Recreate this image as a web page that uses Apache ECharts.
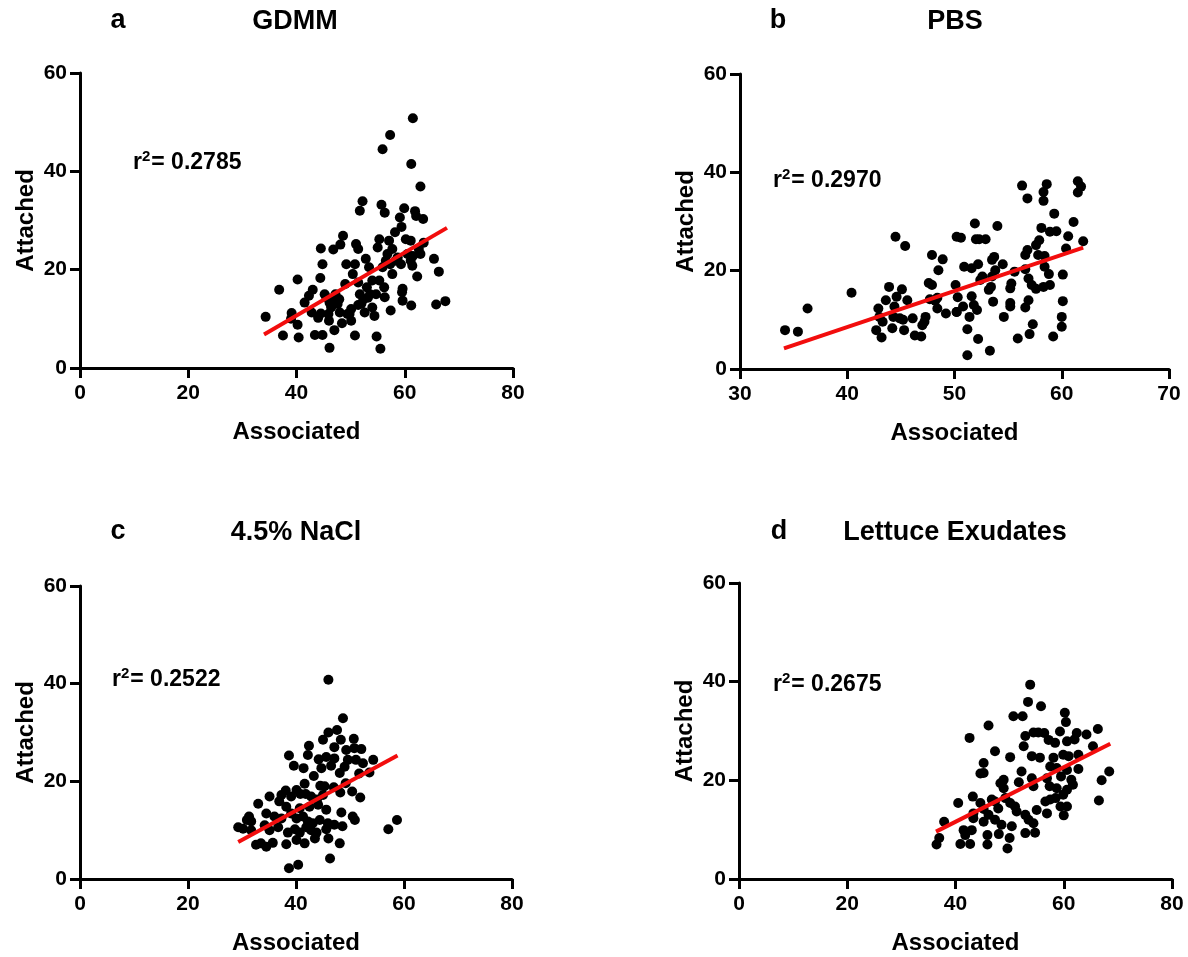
<!DOCTYPE html>
<html>
<head>
<meta charset="utf-8">
<script src="https://cdn.jsdelivr.net/npm/echarts@6/dist/echarts.min.js"></script>
<style>
html,body{margin:0;padding:0;background:#fff;}
#chart{width:1188px;height:957px;}
</style>
</head>
<body>
<div id="chart"></div>
<script>
// ---------- DATA ----------
const panelLetters = ['a', 'b', 'c', 'd'];
const panelTitles = ['GDMM', 'PBS', '4.5% NaCl', 'Lettuce Exudates'];
const r2Values = ['0.2785', '0.2970', '0.2522', '0.2675'];
const xAxisName = 'Associated';
const yAxisName = 'Attached';
const xRanges = [[0, 80, 20], [30, 70, 10], [0, 80, 20], [0, 80, 20]];
const yRange = [0, 60, 20];

const gdmmPoints = [
  [34.3,10.4],[36.8,15.9],[37.5,6.6],[39.1,11.2],[39.0,10.0],[40.2,18.0],[40.2,8.8],[40.4,6.2],
  [41.5,13.3],[42.3,14.7],[43.0,15.9],[42.8,11.3],[43.4,6.7],[44.5,24.3],[44.8,21.1],[44.4,18.3],
  [44.8,6.7],[45.2,15.0],[45.5,14.4],[44.5,11.1],[44.0,10.2],[46.0,9.6],[46.1,4.1],[46.8,24.1],
  [47.0,7.7],[47.2,15.0],[47.9,14.0],[47.6,13.0],[48.1,25.1],[48.6,26.9],[48.4,9.1],[49.0,17.1],
  [49.2,21.1],[49.8,11.0],[50.1,12.0],[50.4,19.1],[50.8,21.1],[50.8,6.6],[51.0,25.2],[51.4,24.2],
  [51.7,32.0],[52.2,33.9],[51.4,17.4],[51.7,15.0],[52.0,13.1],[52.4,14.0],[52.8,22.2],[53.0,16.4],
  [52.6,11.3],[53.4,20.5],[53.6,15.0],[54.0,17.8],[54.4,10.6],[54.7,15.0],[54.8,6.4],[55.0,24.5],
  [55.5,3.9],[55.7,33.2],[55.9,44.5],[55.3,26.2],[56.2,16.4],[56.3,31.6],[56.3,14.4],[56.8,23.2],
  [57.1,25.9],[57.3,47.4],[57.4,11.7],[57.3,21.1],[57.7,19.1],[58.2,27.6],[58.7,22.5],[59.1,30.6],
  [59.3,21.1],[59.4,28.7],[59.6,16.1],[59.6,13.7],[59.9,32.5],[60.2,26.2],[60.5,23.2],[61.1,25.9],
  [61.2,41.5],[61.2,12.7],[61.4,20.8],[61.5,50.8],[61.5,22.8],[61.9,31.9],[62.1,30.9],[62.3,18.6],
  [62.6,24.2],[62.9,36.9],[63.4,30.3],[63.5,25.5],[65.4,22.2],[65.8,12.9],[66.3,19.6],[67.5,13.6],
  [55.3,17.8],[55.9,20.5],[56.5,21.8],[53.2,14.3],[54.0,12.3],[51.4,12.8],[48.0,11.3],[46.1,13.3],
  [46.4,12.3],[47.0,13.7],[45.9,11.0],[50.1,9.6],[49.4,11.0],[57.7,24.2],[58.3,21.8],[62.9,23.2],
  [61.1,21.8],[59.5,15.4]
];
const pbsPoints = [
  [34.2,7.9],[35.4,7.6],[36.3,12.3],[40.4,15.5],[44.5,26.9],[45.4,25.0],[42.7,7.9],[43.2,6.4],
  [42.9,12.3],[43.0,10.6],[43.3,9.6],[43.6,14.0],[43.9,16.7],[44.4,12.7],[44.6,14.7],[44.3,10.6],
  [44.2,8.3],[45.1,16.2],[44.9,10.3],[45.2,10.0],[45.3,7.9],[45.6,14.0],[46.1,10.3],[46.3,6.8],
  [46.9,6.6],[47.0,8.9],[47.2,9.6],[47.3,10.6],[47.6,17.5],[47.9,17.1],[47.9,23.2],[48.5,20.1],
  [48.9,22.3],[47.7,14.2],[48.2,13.9],[48.4,14.5],[48.4,12.3],[49.2,11.3],[50.2,26.9],[50.2,11.6],
  [56.3,37.3],[56.8,34.7],[58.6,37.6],[58.3,36.0],[58.3,34.2],[61.5,38.2],[61.8,37.1],[61.5,35.9],
  [62.0,26.0],[59.3,31.6],[61.1,29.9],[60.6,27.0],[60.4,24.5],[60.1,19.2],[60.1,13.8],[60.0,10.6],
  [60.0,8.6],[59.2,6.6],[59.5,28.0],[58.9,27.9],[58.1,28.7],[57.9,26.2],[57.6,25.2],[56.8,24.2],
  [56.6,23.2],[57.8,23.2],[58.4,23.0],[58.4,20.8],[58.8,19.3],[58.9,17.1],[58.3,16.7],[57.6,16.3],
  [57.2,17.1],[56.9,18.4],[56.6,20.3],[55.6,19.8],[55.3,17.4],[55.2,16.4],[55.2,13.4],[55.2,12.7],
  [56.9,14.0],[56.6,12.5],[57.3,9.1],[57.0,7.1],[55.9,6.2],[54.6,10.6],[53.6,13.7],[53.2,16.1],
  [53.4,16.7],[53.5,18.8],[53.8,20.1],[53.5,22.2],[53.7,22.8],[54.5,21.3],[54.0,29.1],[52.9,26.4],
  [52.3,26.4],[52.0,26.4],[51.9,29.6],[50.6,26.7],[52.2,21.3],[51.6,20.5],[50.9,20.8],[52.6,18.8],
  [52.4,18.1],[50.1,17.1],[50.3,14.6],[51.6,14.8],[51.8,13.0],[52.1,12.0],[50.8,12.7],[50.2,11.6],
  [51.4,10.6],[51.2,8.1],[52.2,6.1],[53.3,3.7],[51.2,2.8]
];
const naclPoints = [
  [46.0,40.8],[48.7,32.9],[47.6,30.5],[46.0,30.0],[45.0,28.5],[48.3,28.5],[50.7,28.7],[42.4,27.3],
  [47.1,27.0],[49.3,26.4],[50.8,26.8],[52.1,26.6],[38.7,25.3],[42.2,25.4],[44.2,24.5],[45.6,25.0],
  [47.1,24.7],[49.6,24.4],[51.1,24.4],[52.4,23.7],[54.3,24.4],[39.6,23.2],[41.4,22.7],[44.7,22.7],
  [46.5,23.2],[49.0,23.0],[48.1,21.7],[51.7,21.6],[53.6,21.8],[43.3,21.1],[41.6,19.5],[44.5,19.1],
  [45.3,19.0],[47.0,18.8],[48.2,17.7],[49.2,19.6],[50.4,17.9],[51.9,16.7],[35.1,16.9],[38.1,18.1],
  [39.1,16.9],[40.1,18.2],[40.8,17.4],[41.8,17.4],[42.8,16.9],[43.9,16.3],[45.0,17.2],[37.3,17.2],
  [36.9,15.9],[33.0,15.4],[38.2,14.8],[40.7,14.5],[42.5,14.8],[44.1,15.2],[45.6,14.2],[48.4,13.6],
  [50.5,12.8],[50.9,12.1],[34.5,13.4],[36.0,12.8],[31.3,12.8],[30.9,12.1],[31.7,11.8],[37.3,12.4],
  [39.1,13.4],[40.1,12.4],[41.3,12.8],[42.2,11.8],[43.1,11.4],[44.4,12.1],[45.9,11.4],[47.1,11.1],
  [48.6,10.8],[29.3,10.6],[30.2,10.3],[31.7,10.0],[34.2,11.0],[35.1,10.0],[36.7,10.6],[38.5,9.5],
  [39.8,10.2],[40.7,9.5],[41.9,10.6],[42.8,10.0],[43.8,9.5],[45.6,10.2],[32.6,7.0],[33.5,7.3],
  [34.5,6.6],[35.7,7.4],[38.2,7.1],[40.1,8.0],[41.6,7.3],[43.5,8.3],[46.0,8.3],[48.1,7.3],
  [46.3,4.2],[38.7,2.2],[40.4,2.9],[57.1,10.2],[58.7,12.1]
];
const lettucePoints = [
  [53.8,39.4],[53.4,35.9],[55.8,35.0],[50.7,33.0],[52.4,33.0],[60.2,33.7],[60.4,31.8],[46.1,31.1],
  [42.6,28.6],[66.3,30.4],[54.4,29.7],[55.3,29.7],[56.4,29.6],[59.3,29.9],[62.4,29.6],[64.2,29.3],
  [52.9,29.0],[57.2,28.2],[58.4,27.6],[60.6,27.9],[62.0,28.3],[65.4,26.9],[52.6,26.9],[47.3,25.9],
  [50.1,24.7],[54.1,24.9],[55.6,24.6],[58.1,24.6],[59.9,25.2],[60.9,24.9],[62.7,25.2],[45.2,23.5],
  [45.2,21.5],[44.6,21.4],[52.2,21.8],[57.5,22.8],[58.7,22.5],[62.7,22.3],[60.6,22.1],[54.1,20.4],
  [56.9,20.4],[48.9,20.1],[48.3,19.4],[51.7,19.6],[59.5,20.8],[61.4,20.1],[61.7,19.1],[67.0,20.0],
  [68.4,21.8],[54.4,18.8],[48.9,18.4],[57.4,18.8],[58.7,18.4],[60.6,18.1],[59.9,17.1],[43.2,16.7],
  [40.5,15.4],[44.6,15.4],[46.7,16.1],[47.3,15.7],[49.2,16.4],[50.1,15.4],[51.0,14.7],[56.6,15.7],
  [57.5,16.1],[58.5,16.4],[59.4,14.7],[60.6,14.7],[66.5,15.9],[43.3,13.3],[45.2,14.2],[46.1,13.0],
  [47.9,14.3],[51.3,13.7],[52.9,13.0],[53.5,12.0],[55.0,14.0],[56.9,13.3],[60.0,12.9],[37.9,11.6],
  [43.3,12.3],[45.2,11.6],[47.3,12.0],[48.5,11.0],[50.4,10.7],[54.4,11.3],[41.5,9.9],[43.0,9.9],
  [41.8,8.9],[45.9,8.9],[48.0,9.1],[50.0,8.3],[52.9,9.3],[54.7,9.4],[37.0,8.3],[36.5,7.0],
  [40.9,7.1],[42.7,7.1],[45.9,7.0],[49.6,6.2]
];
const fitLines = [
  [[34.0, 6.8], [67.8, 28.5]],
  [[34.1, 4.2], [62.0, 24.7]],
  [[29.3, 7.6], [58.8, 25.3]],
  [[36.4, 9.6], [68.6, 27.4]]
];
const allPoints = [gdmmPoints, pbsPoints, naclPoints, lettucePoints];

// ---------- LAYOUT ----------
const grids = [
  {left: 80, top: 73, width: 433, height: 295},
  {left: 740, top: 74, width: 429, height: 295},
  {left: 80, top: 586, width: 432, height: 293},
  {left: 739, top: 583, width: 433, height: 296}
];
const letterPos = [[118, 21], [778, 21], [118, 532], [779, 532]];
const titlePos = [[295, 22], [955, 22], [296, 533], [955, 533]];
const r2Pos = [[133, 163], [773, 181], [112, 680], [773, 685]];

const FONT = '"Liberation Sans", Arial, Helvetica, sans-serif';
const axisLineStyle = {color: '#000', width: 3};

const option = {
  backgroundColor: '#fff',
  animation: false,
  grid: grids.map(g => Object.assign({containLabel: false}, g)),
  xAxis: grids.map((g, i) => ({
    type: 'value', gridIndex: i,
    min: xRanges[i][0], max: xRanges[i][1], interval: xRanges[i][2],
    name: xAxisName, nameLocation: 'middle', nameGap: 52,
    nameTextStyle: {fontFamily: FONT, fontWeight: 'bold', fontSize: 24, color: '#000'},
    axisLine: {show: true, onZero: false, lineStyle: axisLineStyle},
    axisTick: {show: true, length: 10, lineStyle: axisLineStyle},
    axisLabel: {margin: 15, fontFamily: FONT, fontWeight: 'bold', fontSize: 21, color: '#000'},
    splitLine: {show: false}
  })),
  yAxis: grids.map((g, i) => ({
    type: 'value', gridIndex: i,
    min: yRange[0], max: yRange[1], interval: yRange[2],
    name: yAxisName, nameLocation: 'middle', nameGap: 42,
    nameTextStyle: {fontFamily: FONT, fontWeight: 'bold', fontSize: 24, color: '#000'},
    axisLine: {show: true, onZero: false, lineStyle: axisLineStyle},
    axisTick: {show: true, length: 10, lineStyle: axisLineStyle},
    axisLabel: {margin: 13, fontFamily: FONT, fontWeight: 'bold', fontSize: 21, color: '#000'},
    splitLine: {show: false}
  })),
  series: [].concat(
    allPoints.map((pts, i) => ({
      type: 'scatter', xAxisIndex: i, yAxisIndex: i,
      data: pts, symbol: 'circle', symbolSize: 10,
      itemStyle: {color: '#000', opacity: 1}, z: 2
    })),
    fitLines.map((ln, i) => ({
      type: 'line', xAxisIndex: i, yAxisIndex: i,
      data: ln, showSymbol: false, symbol: 'none',
      lineStyle: {color: '#f20d0d', width: 4}, z: 3
    }))
  ),
  graphic: [].concat(
    panelLetters.map((t, i) => ({
      type: 'text', x: letterPos[i][0], y: letterPos[i][1],
      style: {text: t, fontFamily: FONT, fontWeight: 'bold', fontSize: 27, fill: '#000',
              align: 'center', verticalAlign: 'middle'}
    })),
    panelTitles.map((t, i) => ({
      type: 'text', x: titlePos[i][0], y: titlePos[i][1],
      style: {text: t, fontFamily: FONT, fontWeight: 'bold', fontSize: 27, fill: '#000',
              align: 'center', verticalAlign: 'middle'}
    })),
    r2Values.map((v, i) => ({
      type: 'text', x: r2Pos[i][0], y: r2Pos[i][1],
      style: {
        text: '{r|r}{s|2}{r|= ' + v + '}',
        align: 'left', verticalAlign: 'middle',
        rich: {
          r: {fontFamily: FONT, fontWeight: 'bold', fontSize: 23, fill: '#000', color: '#000',
              lineHeight: 28},
          s: {fontFamily: FONT, fontWeight: 'bold', fontSize: 15, fill: '#000', color: '#000',
              lineHeight: 15, verticalAlign: 'top', padding: [0, 1, 0, 0]}
        }
      }
    }))
  )
};

const chart = echarts.init(document.getElementById('chart'), null, {renderer: 'canvas'});
chart.setOption(option);
</script>
</body>
</html>
